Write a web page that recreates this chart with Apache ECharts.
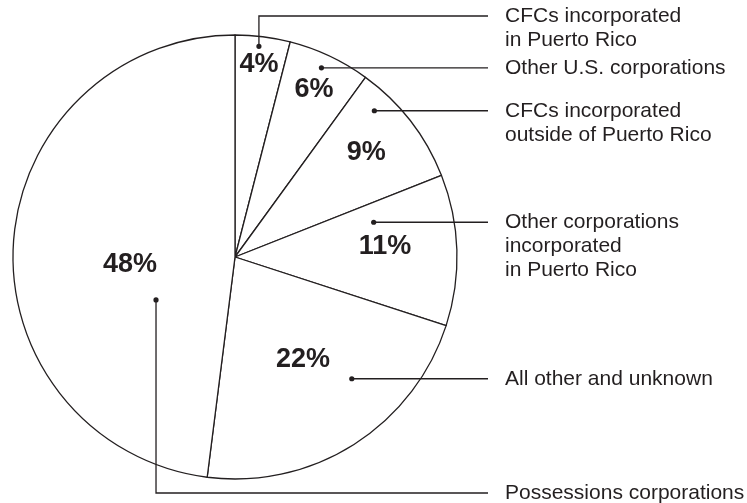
<!DOCTYPE html>
<html>
<head>
<meta charset="utf-8">
<title>Ownership shares</title>
<script src="https://cdn.jsdelivr.net/npm/echarts@6/dist/echarts.min.js"></script>
<style>
  html, body { margin: 0; padding: 0; background: #ffffff; }
  #chart { width: 747px; height: 503px; }
</style>
</head>
<body>
<div id="chart"></div>
<script>
// Slice names (clockwise from 12 o'clock) and their shares in percent
const categories = [
  'CFCs incorporated\nin Puerto Rico',
  'Other U.S. corporations',
  'CFCs incorporated\noutside of Puerto Rico',
  'Other corporations\nincorporated\nin Puerto Rico',
  'All other and unknown',
  'Possessions corporations'
];
const shares = [4, 6, 9, 11, 22, 48];

// Placement inside each slice: [fraction of the slice sweep, fraction of the radius]
const valueLabelPlace = [[0.49, 0.876], [0.495, 0.838], [0.472, 0.757], [0.434, 0.678], [0.484, 0.552], [0.46, 0.474]];
const calloutDotPlace = [[0.45, 0.955], [0.47, 0.937], [0.235, 0.91], [0.19, 0.644], [0.356, 0.76], [0.314, 0.405]];
// Callout rows that do not run straight across from the dot
const calloutRowY = [16, null, null, null, null, 493];
const calloutLineEndX = 488;
const calloutTextX = 505;

const INK = '#231f20';
const chart = echarts.init(document.getElementById('chart'), null, { renderer: 'canvas' });

chart.setOption({
  backgroundColor: '#ffffff',
  animation: false,
  series: [{
    type: 'pie',
    center: [235, 257],
    radius: 222,
    startAngle: 90,
    clockwise: true,
    silent: true,
    z: 1,
    avoidLabelOverlap: false,
    label: { show: false },
    labelLine: { show: false },
    itemStyle: { color: '#ffffff', borderColor: INK, borderWidth: 1.3 },
    data: categories.map((name, i) => ({ name: name, value: shares[i] }))
  }]
});

// Positions derived from each slice's laid-out geometry
const pieData = chart.getModel().getSeriesByIndex(0).getData();
function pointIn(i, place) {
  const lay = pieData.getItemLayout(i);
  const a = lay.startAngle + (lay.endAngle - lay.startAngle) * place[0];
  const r = lay.r * place[1];
  return [lay.cx + r * Math.cos(a), lay.cy + r * Math.sin(a)];
}

const graphics = [];
shares.forEach((v, i) => {
  const p = pointIn(i, valueLabelPlace[i]);
  graphics.push({
    type: 'text', x: p[0], y: p[1] + 1, silent: true, z: 100,
    style: {
      text: v + '%', fill: INK,
      font: 'bold 27px "Liberation Sans", Arial, sans-serif',
      align: 'center', verticalAlign: 'middle'
    }
  });

  const d = pointIn(i, calloutDotPlace[i]);
  const rowY = calloutRowY[i] == null ? d[1] : calloutRowY[i];
  const pts = calloutRowY[i] == null
    ? [d, [calloutLineEndX, rowY]]
    : [d, [d[0], rowY], [calloutLineEndX, rowY]];
  graphics.push({
    type: 'polyline', silent: true, z: 100,
    shape: { points: pts },
    style: { stroke: INK, lineWidth: 1.3, fill: null }
  });
  graphics.push({
    type: 'circle', silent: true, z: 101,
    shape: { cx: d[0], cy: d[1], r: 2.6 },
    style: { fill: INK }
  });
  graphics.push({
    type: 'text', x: calloutTextX, y: rowY - 12, silent: true, z: 100,
    style: {
      text: categories[i], fill: INK,
      font: '21px "Liberation Sans", Arial, sans-serif',
      lineHeight: 24, align: 'left', verticalAlign: 'top'
    }
  });
});

chart.setOption({ graphic: graphics });
</script>
</body>
</html>
